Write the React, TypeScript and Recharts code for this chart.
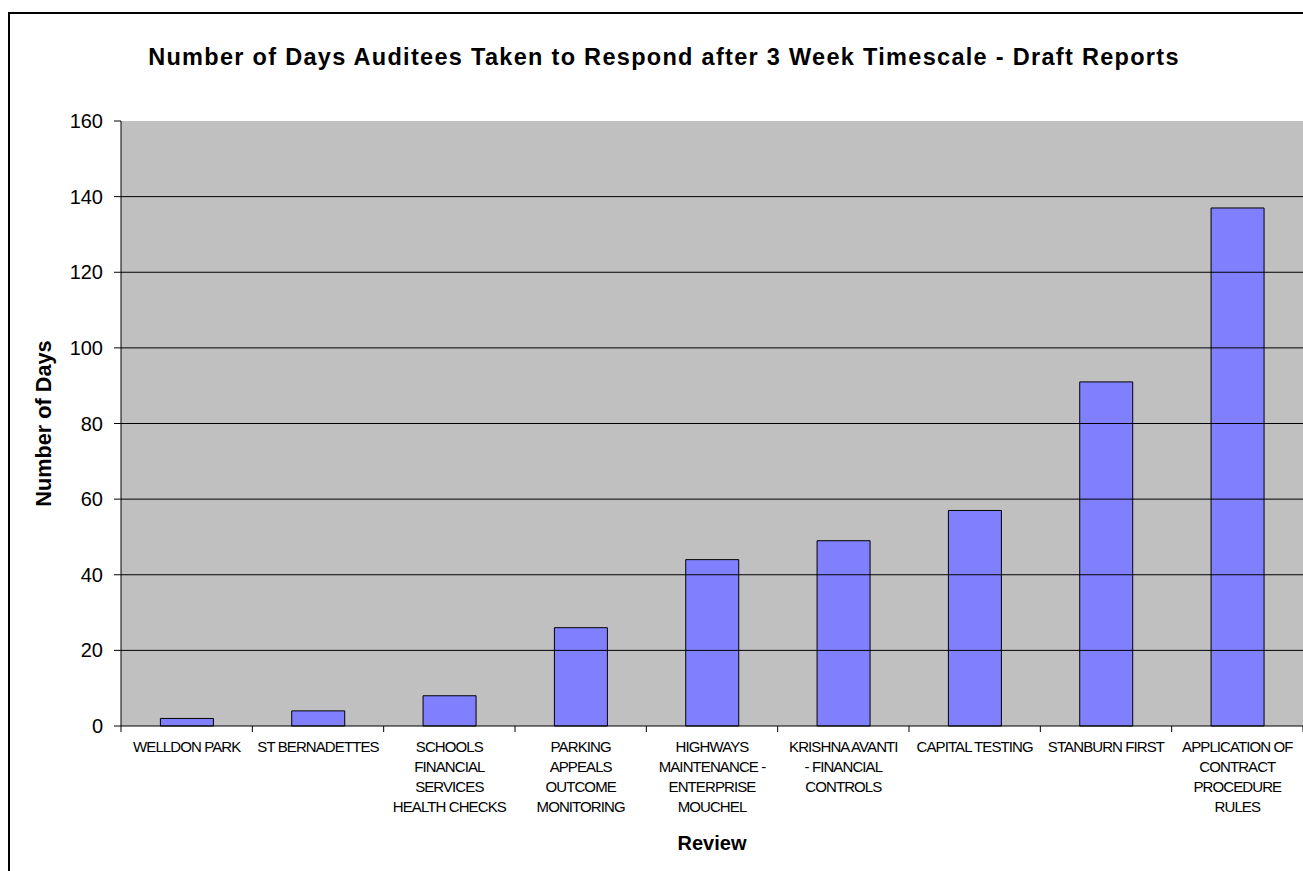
import React from 'react';
import { BarChart, Bar, XAxis, YAxis, CartesianGrid, ReferenceLine, Label } from 'recharts';

const reviews = [
  'WELLDON PARK',
  'ST BERNADETTES',
  'SCHOOLS\nFINANCIAL\nSERVICES\nHEALTH CHECKS',
  'PARKING\nAPPEALS\nOUTCOME\nMONITORING',
  'HIGHWAYS\nMAINTENANCE -\nENTERPRISE\nMOUCHEL',
  'KRISHNA AVANTI\n- FINANCIAL\nCONTROLS',
  'CAPITAL TESTING',
  'STANBURN FIRST',
  'APPLICATION OF\nCONTRACT\nPROCEDURE\nRULES',
];
const daysTaken = [2, 4, 8, 26, 44, 49, 57, 91, 137];
const dayTicks = [0, 20, 40, 60, 80, 100, 120, 140, 160];
const gridValues = [20, 40, 60, 80, 100, 120, 140];

const chartData = reviews.map((review, i) => ({ review, days: daysTaken[i] }));

const FONT = '"Liberation Sans", Arial, sans-serif';

// category label split over lines, plus a tick mark on each band edge
function ReviewTick(props: any) {
  const { x, y, payload, index } = props;
  const half = payload.offset || 0;
  const lines = String(payload.value).split('\n');
  return (
    <g>
      <line x1={x - half} x2={x - half} y1={y} y2={y + 6} stroke="#000" />
      {index === reviews.length - 1 && (
        <line x1={x + half} x2={x + half} y1={y} y2={y + 6} stroke="#000" />
      )}
      <text
        x={x}
        y={y + 26}
        textAnchor="middle"
        fontFamily={FONT}
        fontSize={15}
        letterSpacing={-0.9}
        fill="#000"
      >
        {lines.map((line, i) => (
          <tspan key={i} x={x} dy={i === 0 ? 0 : 20}>
            {line}
          </tspan>
        ))}
      </text>
    </g>
  );
}

export default function App() {
  return (
    <div
      style={{
        position: 'fixed',
        left: 0,
        top: 0,
        width: 1303,
        height: 871,
        overflow: 'hidden',
        background: '#fff',
        fontFamily: FONT,
      }}
    >
      <div
        style={{
          position: 'absolute',
          left: 8,
          top: 12,
          width: 1400,
          height: 1000,
          borderLeft: '2px solid #000',
          borderTop: '2px solid #000',
        }}
      />
      <div
        style={{
          position: 'absolute',
          left: 0,
          top: 44,
          width: 1328,
          textAlign: 'center',
          fontSize: 23.5,
          letterSpacing: 1.3,
          fontWeight: 'bold',
          color: '#000',
          whiteSpace: 'nowrap',
        }}
      >
        Number of Days Auditees Taken to Respond after 3 Week Timescale - Draft Reports
      </div>
      <div style={{ position: 'absolute', left: 0, top: 0 }}>
        <BarChart
          width={1303}
          height={871}
          data={chartData}
          margin={{ top: 121, right: 0, bottom: 0, left: 0 }}
          barCategoryGap="30%"
        >
          <CartesianGrid fill="#c0c0c0" horizontal={false} vertical={false} stroke="none" />
          {gridValues.map((v) => (
            <ReferenceLine key={v} y={v} stroke="#000" strokeWidth={1} />
          ))}
          <XAxis
            dataKey="review"
            height={145}
            interval={0}
            tickLine={false}
            tickSize={0}
            tickMargin={0}
            axisLine={{ stroke: '#000' }}
            tick={<ReviewTick />}
          >
            <Label
              value="Review"
              position="insideBottom"
              offset={21}
              style={{ fontFamily: FONT, fontSize: 20, fontWeight: 'bold', fill: '#000' }}
            />
          </XAxis>
          <YAxis
            width={121}
            domain={[0, 160]}
            ticks={dayTicks}
            interval={0}
            tickSize={7}
            tickMargin={11}
            tickLine={{ stroke: '#000' }}
            axisLine={{ stroke: '#000' }}
            tick={{ fontFamily: FONT, fontSize: 20, fill: '#000' }}
          >
            <Label
              content={({ viewBox }: any) => {
                const cx = viewBox.x + 43;
                const cy = viewBox.y + viewBox.height / 2;
                return (
                  <text
                    x={cx}
                    y={cy}
                    transform={`rotate(-90 ${cx} ${cy})`}
                    textAnchor="middle"
                    dominantBaseline="central"
                    fontFamily={FONT}
                    fontSize={21.7}
                    fontWeight="bold"
                    fill="#000"
                  >
                    Number of Days
                  </text>
                );
              }}
            />
          </YAxis>
          <Bar dataKey="days" fill="#8080ff" stroke="#000" strokeWidth={1} isAnimationActive={false} />
        </BarChart>
      </div>
    </div>
  );
}
